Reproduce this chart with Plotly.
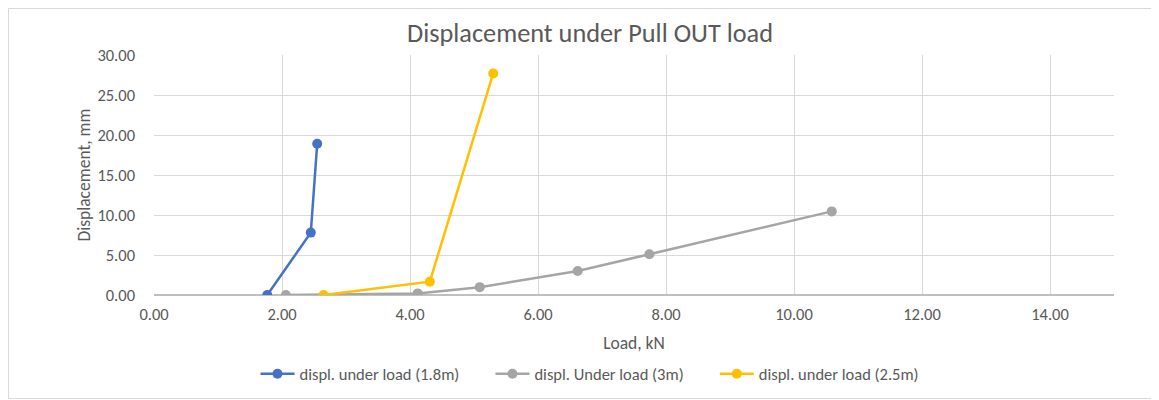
import plotly.graph_objects as go

load_18 = [1.77, 2.45, 2.55]
disp_18 = [0.0, 7.8, 18.9]

load_3 = [2.06, 4.12, 5.09, 6.62, 7.74, 10.59]
disp_3 = [0.0, 0.2, 0.98, 3.0, 5.1, 10.45]

load_25 = [2.65, 4.31, 5.30]
disp_25 = [0.0, 1.67, 27.7]

x_ticks = [0, 2, 4, 6, 8, 10, 12, 14]
y_ticks = [0, 5, 10, 15, 20, 25, 30]

FONT = "Carlito, Calibri, Lato, 'Open Sans', sans-serif"
TXT = "#595959"
PAD = "\u00a0" * 7  # extra spacing between legend entries

fig = go.Figure()
series = [
    ("displ. under load (1.8m)" + PAD, load_18, disp_18, "#4472C4"),
    ("displ. Under load (3m)" + PAD, load_3, disp_3, "#A5A5A5"),
    ("displ. under load (2.5m)", load_25, disp_25, "#FFC000"),
]
for name, xs, ys, col in series:
    fig.add_trace(go.Scatter(
        x=xs, y=ys, name=name, mode="lines+markers",
        line=dict(color=col, width=2.5),
        marker=dict(color=col, size=10),
    ))

# the page body adds an 8px offset; compensate
OFF = 8
W, H = 1159 - OFF, 400 - OFF
L, R, T, B = 154 - OFF, 45, 55 - OFF, 105
pw, ph = W - L - R, H - T - B

fig.update_layout(
    width=W, height=H,
    margin=dict(l=L, r=R, t=T, b=B, autoexpand=False),
    paper_bgcolor="white", plot_bgcolor="white",
    font=dict(family=FONT, color=TXT, size=16),
    title=dict(text="Displacement under Pull OUT load", x=(590 - OFF) / W, xanchor="center",
               y=1 - (33 - OFF) / H, yanchor="middle", font=dict(size=26.3, color=TXT)),
    xaxis=dict(range=[0, 15], tickvals=x_ticks, ticktext=[f"{v:.2f}" for v in x_ticks],
               showgrid=True, gridcolor="#D9D9D9", gridwidth=1, zeroline=False,
               showline=False, ticks="", tickfont=dict(size=16.5, color=TXT),
               ticklabelstandoff=7, automargin=False,
               title=dict(text="Load, kN", font=dict(size=17.5, color=TXT), standoff=14)),
    yaxis=dict(range=[0, 30], tickvals=y_ticks, ticktext=[f"{v:.2f}" for v in y_ticks],
               showgrid=True, gridcolor="#D9D9D9", gridwidth=1, zeroline=True,
               zerolinecolor="#BFBFBF", zerolinewidth=1.5,
               showline=False, ticks="", tickfont=dict(size=16.5, color=TXT),
               ticklabelstandoff=18, automargin=False,
               title=dict(text="Displacement, mm", font=dict(size=17.5, color=TXT), standoff=2)),
    legend=dict(orientation="h", x=(590 - 154) / pw, xanchor="center",
                y=(295 - 374) / ph, yanchor="middle",
                font=dict(size=16.5, color=TXT), itemwidth=34, tracegroupgap=0),
    showlegend=True,
)

fig.add_shape(type="rect", xref="paper", yref="paper",
              x0=-(L - 0.5) / pw, x1=1 + (R - 1.5) / pw,
              y0=-(B - 1.5) / ph, y1=1 + (T - 0.5) / ph,
              line=dict(color="#D9D9D9", width=1), fillcolor="rgba(0,0,0,0)", layer="below")

fig.write_html("out.html")
